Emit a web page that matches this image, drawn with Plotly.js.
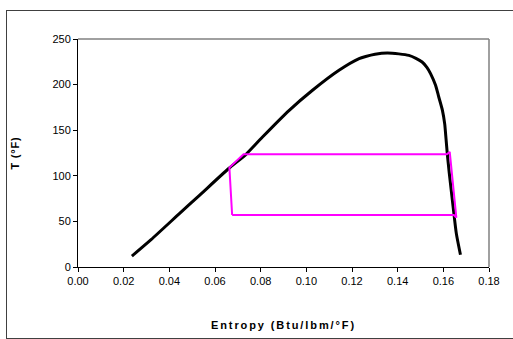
<!DOCTYPE html>
<html>
<head>
<meta charset="utf-8">
<script src="https://cdn.plot.ly/plotly-3.0.1.min.js"></script>
<style>
  html, body { margin: 0; padding: 0; background: #fff; }
  #frame { position: absolute; left: 6px; top: 10px; width: 600px; height: 327px;
           border: 1px solid #404040; pointer-events: none; }
  #chart { position: absolute; left: 0; top: 0; width: 513px; height: 339px; }
  .xtitle { letter-spacing: 1.9px; }
  .ytitle { letter-spacing: 0.8px; }
</style>
</head>
<body>
<div id="chart"></div>
<div id="frame"></div>
<script>
// Saturation dome: liquid branch up to the critical point, then vapour branch down
const domeEntropy = [0.0236, 0.0320, 0.0444, 0.0532, 0.0660, 0.0736, 0.0808, 0.0925,
                     0.1027, 0.1143, 0.1231, 0.1260, 0.1301, 0.1354, 0.1405, 0.1449,
                     0.1480, 0.1507, 0.1528, 0.1544, 0.1566, 0.1580, 0.1596, 0.1606,
                     0.1612, 0.1617, 0.1626, 0.1643, 0.1657, 0.1675];
const domeTemp    = [12, 30, 58.5, 78.6, 108, 123.6, 142.5, 171.8,
                     193.8, 215.7, 228.5, 230.8, 233.2, 234.6, 233.7, 232.0,
                     228.8, 224.8, 219.0, 212.1, 199.3, 186.4, 171.8, 157,
                     140, 125, 103, 65.8, 36.6, 13.5];

// Refrigeration cycle path
const cycleEntropy = [0.0675, 0.1646, 0.1657, 0.1628, 0.1615, 0.0725, 0.0663, 0.0675];
const cycleTemp    = [57, 57, 54.2, 126.2, 123.6, 123.6, 109, 57];

const xTicks = [0, 0.02, 0.04, 0.06, 0.08, 0.10, 0.12, 0.14, 0.16, 0.18];
const yTicks = [0, 50, 100, 150, 200, 250];

const font = { family: 'Liberation Sans, Arial, sans-serif', size: 11, color: '#000' };

const traces = [
  { x: domeEntropy, y: domeTemp, mode: 'lines', type: 'scatter',
    line: { color: '#000', width: 3, shape: 'spline', smoothing: 0.6 }, hoverinfo: 'skip' },
  { x: cycleEntropy, y: cycleTemp, mode: 'lines', type: 'scatter',
    line: { color: '#ff00ff', width: 2 }, hoverinfo: 'skip' }
];

const layout = {
  width: 513, height: 339,
  margin: { l: 78, r: 24, t: 39, b: 72, pad: 0 },
  paper_bgcolor: 'rgba(0,0,0,0)', plot_bgcolor: '#fff',
  showlegend: false,
  font: font,
  xaxis: {
    range: [0, 0.18], tickvals: xTicks, tickformat: '.2f',
    showgrid: false, zeroline: false,
    showline: true, linecolor: '#000', linewidth: 1,
    ticks: 'outside', ticklen: 4, tickcolor: '#000',
    tickfont: font, mirror: false,
    title: { text: 'Entropy (Btu/lbm/°F)', font: { family: font.family, size: 11, color: '#000', weight: 'bold' }, standoff: 35 }
  },
  yaxis: {
    range: [0, 250], tickvals: yTicks,
    showgrid: false, zeroline: false,
    showline: true, linecolor: '#000', linewidth: 1,
    ticks: 'outside', ticklen: 4, tickcolor: '#000',
    tickfont: font,
    title: { text: 'T (°F)', font: { family: font.family, size: 11, color: '#000', weight: 'bold' }, standoff: 30 }
  },
  shapes: [
    { type: 'line', xref: 'paper', yref: 'paper', x0: 0, x1: 1, y0: 1, y1: 1,
      line: { color: '#808080', width: 1.5 } },
    { type: 'line', xref: 'paper', yref: 'paper', x0: 1, x1: 1, y0: 0, y1: 1,
      line: { color: '#808080', width: 1.5 } }
  ]
};

Plotly.newPlot('chart', traces, layout, { staticPlot: true, displayModeBar: false });
</script>
</body>
</html>
